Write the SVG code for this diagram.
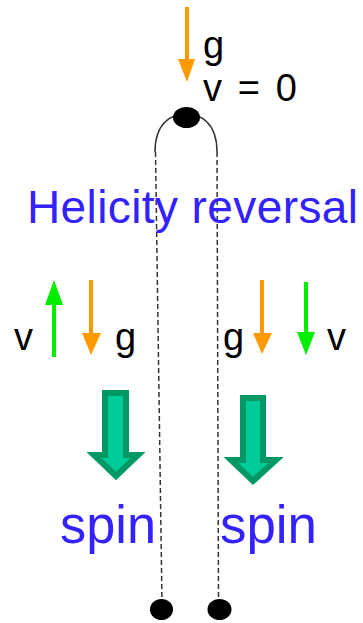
<svg xmlns="http://www.w3.org/2000/svg" width="363" height="623" viewBox="0 0 363 623">
<style>
.lbl{font-family:"Liberation Sans",Arial,sans-serif;font-size:38px;fill:#000}
.blue{font-family:"Liberation Sans",Arial,sans-serif;fill:#3322ff}
.orange{stroke:#ff9900;stroke-width:4;fill:none}
.green{stroke:#00ee00;stroke-width:4;fill:none}
.track{stroke:#333;stroke-width:1.5;fill:none}
.dash{stroke-dasharray:5 3}
.spin{fill:#00cc99;stroke:#009966;stroke-width:6;stroke-linejoin:miter}
</style>
<rect width="363" height="623" fill="#fff"/>
<g id="connectors">
  <path class="track" d="M155,152 C155,122 172,114 186,114 C200,114 217,122 217,152"/>
  <line class="track dash" x1="155.5" y1="152" x2="162" y2="602"/>
  <line class="track dash" x1="217" y1="152" x2="218.5" y2="602"/>
</g>
<g id="top-ball">
  <ellipse cx="186.5" cy="117.5" rx="13.5" ry="10.5" fill="#000"/>
</g>
<g id="bottom-left-ball">
  <ellipse cx="161.5" cy="609.5" rx="11.5" ry="10.5" fill="#000"/>
</g>
<g id="bottom-right-ball">
  <ellipse cx="219.5" cy="609.5" rx="12" ry="10.5" fill="#000"/>
</g>
<g id="top-gravity">
  <line class="orange" x1="187" y1="7" x2="187" y2="62"/>
  <polygon points="178,59 195,59 187,82" fill="#ff9900"/>
  <text class="lbl" x="203" y="58">g</text>
  <text class="lbl" x="203" y="101" textLength="94" lengthAdjust="spacing">v = 0</text>
</g>
<g id="title">
  <text class="blue" x="27" y="223" font-size="46" textLength="331" lengthAdjust="spacing">Helicity reversal</text>
</g>
<g id="left-vectors">
  <text class="lbl" x="14" y="350">v</text>
  <line class="green" x1="54" y1="302" x2="54" y2="357"/>
  <polygon points="45,305 63,305 54,280" fill="#00ee00"/>
  <line class="orange" x1="91" y1="280" x2="91" y2="336"/>
  <polygon points="82,333 101,333 91,355" fill="#ff9900"/>
  <text class="lbl" x="115" y="350">g</text>
</g>
<g id="right-vectors">
  <text class="lbl" x="223" y="350">g</text>
  <line class="orange" x1="262" y1="280" x2="262" y2="336"/>
  <polygon points="253,333 272,333 262,354" fill="#ff9900"/>
  <line class="green" x1="306" y1="282" x2="306" y2="335"/>
  <polygon points="297,332 315,332 306,355" fill="#00ee00"/>
  <text class="lbl" x="327" y="350">v</text>
</g>
<g id="left-spin">
  <polygon class="spin" points="105,393 126,393 126,455 138,455 116,476 94,455 105,455"/>
  <text class="blue" x="60" y="543" font-size="54" textLength="96" lengthAdjust="spacingAndGlyphs">spin</text>
</g>
<g id="right-spin">
  <polygon class="spin" points="243,398 263,398 263,460 276,460 253,481 231,460 243,460"/>
  <text class="blue" x="220" y="543" font-size="54" textLength="97" lengthAdjust="spacingAndGlyphs">spin</text>
</g>
</svg>
